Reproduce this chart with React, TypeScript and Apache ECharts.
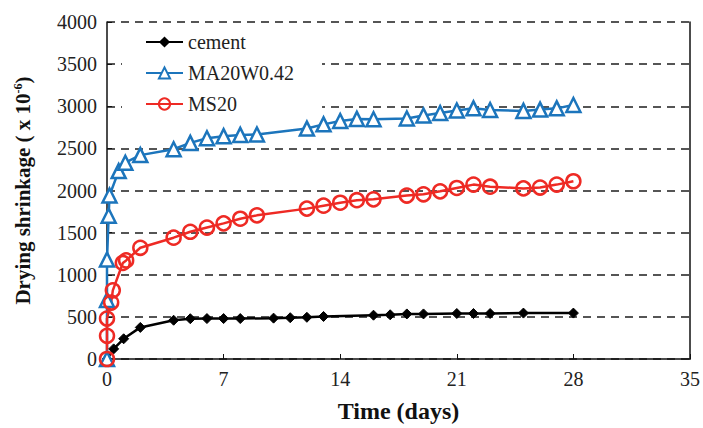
import React, { useEffect, useRef } from "react";
import * as echarts from "echarts";

const cementDays = [0, 0.4, 1, 2, 4, 5, 6, 7, 8, 10, 11, 12, 13, 16, 17, 18, 19, 21, 22, 23, 25, 28];
const cementVals = [0, 120, 240, 375, 460, 478, 480, 480, 480, 485, 490, 495, 505, 520, 525, 535, 535, 540, 540, 540, 545, 545];

const maDays = [0, 0, 0, 0.1, 0.15, 0.7, 1.1, 2, 4, 5, 6, 7, 8, 9, 12, 13, 14, 15, 16, 18, 19, 20, 21, 22, 23, 25, 26, 27, 28];
const maVals = [0, 700, 1180, 1700, 1940, 2230, 2330, 2420, 2490, 2565, 2620, 2645, 2660, 2665, 2735, 2785, 2825, 2850, 2845, 2855, 2890, 2920, 2950, 2975, 2955, 2945, 2960, 2975, 3015];

const msDays = [0, 0, 0, 0.25, 0.35, 0.95, 1.15, 2, 4, 5, 6, 7, 8, 9, 12, 13, 14, 15, 16, 18, 19, 20, 21, 22, 23, 25, 26, 27, 28];
const msVals = [0, 275, 480, 670, 815, 1140, 1170, 1320, 1440, 1510, 1560, 1610, 1665, 1705, 1785, 1820, 1855, 1885, 1895, 1940, 1955, 1990, 2030, 2070, 2045, 2025, 2035, 2070, 2110];

const seriesNames = ["cement", "MA20W0.42", "MS20"];
const xTicks = { min: 0, max: 35, interval: 7 };
const yTicks = { min: 0, max: 4000, interval: 500 };

const pair = (d: number[], v: number[]) => d.map((x, i) => [x, v[i]]);

const FONT = "Liberation Serif";

export default function App() {
  const ref = useRef<HTMLDivElement>(null);
  useEffect(() => {
    document.body.style.margin = "0";
    const chart = echarts.init(ref.current!, null, { renderer: "svg" });
    chart.setOption({
      animation: false,
      backgroundColor: "#fff",
      grid: { left: 107, right: 13, top: 22, bottom: 68 },
      graphic: [
        {
          type: "rect",
          z: 1,
          shape: { x: 122, y: 24, width: 200, height: 98 },
          style: { fill: "#fff" },
        },
      ],
      legend: {
        orient: "vertical",
        left: 145,
        top: 32,
        itemWidth: 37,
        itemHeight: 14,
        itemGap: 11,
        padding: 0,
        z: 5,
        data: seriesNames,
        textStyle: { fontFamily: FONT, fontSize: 20, color: "#222" },
      },
      xAxis: {
        type: "value",
        min: xTicks.min,
        max: xTicks.max,
        interval: xTicks.interval,
        name: "Time (days)",
        nameLocation: "middle",
        nameGap: 40,
        nameTextStyle: { fontFamily: FONT, fontSize: 24, fontWeight: "bold", color: "#111" },
        axisLine: { show: true, lineStyle: { color: "#111", width: 1.5 } },
        axisTick: { show: true, inside: true, length: 5, lineStyle: { color: "#111" } },
        axisLabel: { fontFamily: FONT, fontSize: 20, color: "#222", margin: 10 },
        splitLine: { show: false },
      },
      yAxis: [
        {
          type: "value",
          min: yTicks.min,
          max: yTicks.max,
          interval: yTicks.interval,
          name: "Drying shrinkage ( x 10{sup|-6})",
          nameLocation: "middle",
          nameGap: 74,
          nameRotate: 90,
          nameTextStyle: {
            fontFamily: FONT,
            fontSize: 21,
            fontWeight: "bold",
            color: "#111",
            rich: {
              sup: { fontFamily: FONT, fontSize: 12, fontWeight: "bold", color: "#111", verticalAlign: "top", padding: [0, 0, 9, 0] },
            },
          },
          axisLine: { show: true, lineStyle: { color: "#111", width: 1.5 } },
          axisTick: { show: true, inside: true, length: 5, lineStyle: { color: "#111" } },
          axisLabel: { fontFamily: FONT, fontSize: 20, color: "#222", margin: 10, formatter: (v: number) => String(v) },
          splitLine: { show: true, lineStyle: { color: "#555", type: [8, 6], width: 2 } },
        },
        {
          type: "value",
          position: "right",
          min: yTicks.min,
          max: yTicks.max,
          interval: yTicks.interval,
          axisLine: { show: true, lineStyle: { color: "#111", width: 1.5 } },
          axisTick: { show: false },
          axisLabel: { show: false },
          splitLine: { show: false },
        },
      ],
      series: [
        {
          name: seriesNames[0],
          type: "line",
          data: pair(cementDays, cementVals),
          symbol: "diamond",
          symbolSize: 10,
          lineStyle: { color: "#000", width: 2.5 },
          itemStyle: { color: "#000", borderColor: "#000" },
          z: 3,
        },
        {
          name: seriesNames[1],
          type: "line",
          data: pair(maDays, maVals),
          symbol: "triangle",
          symbolSize: 14,
          lineStyle: { color: "#1c75bc", width: 2.5 },
          itemStyle: { color: "#fff", borderColor: "#1c75bc", borderWidth: 2.5 },
          z: 3,
        },
        {
          name: seriesNames[2],
          type: "line",
          data: pair(msDays, msVals),
          symbol: "circle",
          symbolSize: 14,
          lineStyle: { color: "#ee2a24", width: 2.5 },
          itemStyle: { color: "rgba(255,255,255,0)", borderColor: "#ee2a24", borderWidth: 2.5 },
          z: 3,
        },
      ],
    });
    return () => chart.dispose();
  }, []);
  return <div ref={ref} style={{ width: 703, height: 428 }} />;
}
